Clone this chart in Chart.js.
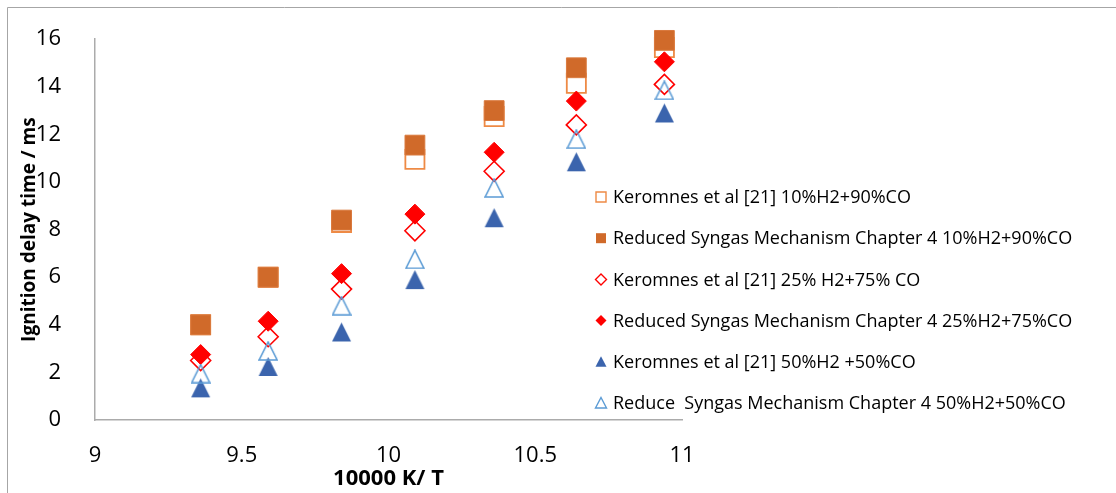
<!DOCTYPE html>
<html>
<head>
<meta charset="utf-8">
<script src="https://cdn.jsdelivr.net/npm/chart.js@4/dist/chart.umd.min.js"></script>
<style>
  html, body { margin: 0; padding: 0; background: #ffffff; }
  #wrap { position: relative; width: 1116px; height: 493px; }
</style>
</head>
<body>
<div id="wrap"><canvas id="c" width="1116" height="493"></canvas></div>
<script>
// 10000 K / T for each measured temperature
const inverseT = [9.36, 9.59, 9.84, 10.09, 10.36, 10.64, 10.94];

// Ignition delay times (ms)
const keromnes10 = [4.0, 6.0, 8.3, 10.95, 12.75, 14.15, 15.65];
const reduced10  = [4.0, 6.0, 8.4, 11.55, 13.0, 14.8, 15.95];
const keromnes25 = [2.5, 3.5, 5.5, 7.95, 10.45, 12.4, 14.1];
const reduced25  = [2.75, 4.15, 6.15, 8.65, 11.25, 13.4, 15.05];
const keromnes50 = [1.35, 2.25, 3.7, 5.9, 8.5, 10.85, 12.9];
const reduced50  = [1.95, 2.9, 4.8, 6.75, 9.75, 11.8, 13.85];

const seriesNames = [
  'Keromnes et al [21] 10%H2+90%CO',
  'Reduced Syngas Mechanism Chapter 4 10%H2+90%CO',
  'Keromnes et al [21] 25% H2+75% CO',
  'Reduced Syngas Mechanism Chapter 4 25%H2+75%CO',
  'Keromnes et al [21] 50%H2 +50%CO',
  'Reduce  Syngas Mechanism Chapter 4 50%H2+50%CO'
];

const xTickMin = 9, xTickMax = 11, xStep = 0.5;
const yTickMin = 0, yTickMax = 16, yStep = 2;

const FONT = '"Open Sans", "Liberation Sans", sans-serif';

// Triangle markers whose bounding box is centred on the point
function triangleImage(size, fill, stroke, lw) {
  const c = document.createElement('canvas');
  c.width = size + 2; c.height = size + 2;
  const g = c.getContext('2d');
  g.beginPath();
  g.moveTo(1 + size / 2, 1);
  g.lineTo(1 + size, 1 + size);
  g.lineTo(1, 1 + size);
  g.closePath();
  if (fill) { g.fillStyle = fill; g.fill(); }
  if (stroke) { g.strokeStyle = stroke; g.lineWidth = lw; g.stroke(); }
  return c;
}
const triFilled = triangleImage(19, '#3B64AD', null, 0);
const triHollow = triangleImage(18, null, '#5B9BD5', 1.6);

function pts(ys) { return ys.map((y, i) => ({ x: inverseT[i], y: y })); }

const datasets = [
  { label: seriesNames[0], data: pts(keromnes10), pointStyle: 'rect', pointRadius: 13.5,
    backgroundColor: 'rgba(255,255,255,0)', borderColor: '#EE8A45', borderWidth: 1.8, order: 5,
    legend: { kind: 'rect', fill: null, stroke: '#EE8A45' } },
  { label: seriesNames[1], data: pts(reduced10), pointStyle: 'rect', pointRadius: 14,
    backgroundColor: '#D06A2A', borderColor: '#DA7A3E', borderWidth: 1, order: 4,
    legend: { kind: 'rect', fill: '#D06A2A', stroke: null } },
  { label: seriesNames[2], data: pts(keromnes25), pointStyle: 'rectRot', pointRadius: 10,
    backgroundColor: 'rgba(255,255,255,0)', borderColor: '#FF0000', borderWidth: 1.6, order: 3,
    legend: { kind: 'diamond', fill: null, stroke: '#FF0000' } },
  { label: seriesNames[3], data: pts(reduced25), pointStyle: 'rectRot', pointRadius: 10,
    backgroundColor: '#FF0000', borderColor: '#FF0000', borderWidth: 1, order: 2,
    legend: { kind: 'diamond', fill: '#FF0000', stroke: null } },
  { label: seriesNames[4], data: pts(keromnes50), pointStyle: triFilled, pointRadius: 10,
    backgroundColor: '#3B64AD', borderColor: '#3B64AD', borderWidth: 0, order: 1,
    legend: { kind: 'tri', fill: '#3B64AD', stroke: null } },
  { label: seriesNames[5], data: pts(reduced50), pointStyle: triHollow, pointRadius: 10,
    backgroundColor: 'rgba(255,255,255,0)', borderColor: '#5B9BD5', borderWidth: 0, order: 0,
    legend: { kind: 'tri', fill: null, stroke: '#5B9BD5' } }
];
datasets.forEach(ds => { ds.clip = false; });

// Legend drawn inside the plot, on the right-hand side
const sideLegend = {
  id: 'sideLegend',
  afterDraw(chart) {
    const ctx = chart.ctx;
    const x0 = 601, y0 = 197, rowGap = 41.2, textX = 613;
    ctx.save();
    ctx.font = '18px ' + FONT;
    ctx.textBaseline = 'middle';
    ctx.textAlign = 'left';
    chart.data.datasets.forEach((ds, i) => {
      const y = y0 + i * rowGap;
      const m = ds.legend;
      ctx.beginPath();
      if (m.kind === 'rect') {
        ctx.rect(x0 - 5, y - 5, 10, 10);
      } else if (m.kind === 'diamond') {
        ctx.moveTo(x0, y - 5.5); ctx.lineTo(x0 + 5.5, y);
        ctx.lineTo(x0, y + 5.5); ctx.lineTo(x0 - 5.5, y);
        ctx.closePath();
      } else {
        ctx.moveTo(x0, y - 5.5); ctx.lineTo(x0 + 5.5, y + 5);
        ctx.lineTo(x0 - 5.5, y + 5); ctx.closePath();
      }
      if (m.fill) { ctx.fillStyle = m.fill; ctx.fill(); }
      if (m.stroke) { ctx.strokeStyle = m.stroke; ctx.lineWidth = 1.4; ctx.stroke(); }
      ctx.fillStyle = '#000000';
      ctx.fillText(ds.label, textX, y + 1);
    });
    ctx.restore();
  }
};

// Partial outer frame (top and left edges)
const frame = {
  id: 'frame',
  beforeDraw(chart) {
    const ctx = chart.ctx;
    ctx.save();
    ctx.strokeStyle = '#A6A6A6';
    ctx.lineWidth = 1;
    ctx.beginPath();
    ctx.moveTo(7.5, 493); ctx.lineTo(7.5, 7.5); ctx.lineTo(1116, 7.5);
    ctx.stroke();
    ctx.restore();
  }
};

new Chart(document.getElementById('c'), {
  type: 'scatter',
  data: { datasets: datasets },
  options: {
    responsive: false,
    animation: false,
    devicePixelRatio: 1,
    layout: { padding: { left: 0, right: 434, top: 35, bottom: 0 } },
    plugins: { legend: { display: false }, tooltip: { enabled: false } },
    scales: {
      x: {
        type: 'linear', min: xTickMin, max: xTickMax,
        grid: { display: false },
        border: { display: true, color: '#ABABAB', width: 1.5 },
        ticks: { stepSize: xStep, padding: 15, color: '#000', font: { family: FONT, size: 22 },
                 callback: v => String(v) },
        title: { display: true, text: '10000 K/ T', color: '#000',
                 font: { family: FONT, size: 22, weight: 'bold' }, padding: { top: 0, bottom: 1 } },
        afterFit(s) { s.height = 73; }
      },
      y: {
        type: 'linear', min: yTickMin, max: yTickMax,
        grid: { display: false },
        border: { display: true, color: '#ABABAB', width: 1.5 },
        ticks: { stepSize: yStep, padding: 26, color: '#000', font: { family: FONT, size: 22 } },
        title: { display: true, text: 'Ignition delay time / ms', color: '#000',
                 font: { family: FONT, size: 19, weight: 'bold' }, padding: { top: 18.5, bottom: 0 } },
        afterFit(s) { s.width = 95; }
      }
    }
  },
  plugins: [frame, sideLegend]
});
</script>
</body>
</html>
